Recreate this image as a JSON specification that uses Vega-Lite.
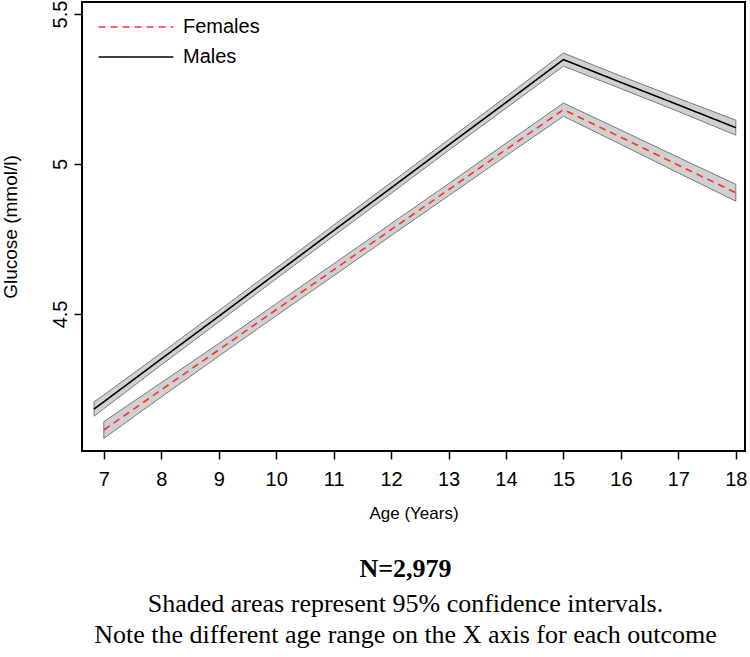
{
  "$schema": "https://vega.github.io/schema/vega-lite/v6.json",
  "width": 663,
  "height": 449,
  "autosize": {"type": "none"},
  "padding": {"left": 82, "top": 2, "right": 5, "bottom": 206},
  "background": "white",
  "config": {
    "view": {"stroke": "black", "strokeWidth": 2},
    "font": "Liberation Sans",
    "axis": {
      "grid": false,
      "domain": false,
      "tickSize": 8,
      "tickColor": "black",
      "tickWidth": 1.5,
      "labelFontSize": 20,
      "labelColor": "black",
      "labelPadding": 4,
      "titleFontSize": 17,
      "titleFontWeight": "normal",
      "titleColor": "black",
      "titleFont": "Liberation Sans"
    }
  },
  "title": {
    "text": "N=2,979",
    "subtitle": ["Shaded areas represent 95% confidence intervals.", "Note the different age range on the X axis for each outcome"],
    "orient": "bottom",
    "anchor": "middle",
    "dx": -8,
    "offset": 35,
    "font": "Liberation Serif",
    "fontSize": 26,
    "fontWeight": "bold",
    "color": "black",
    "subtitleFont": "Liberation Serif",
    "subtitleFontSize": 26,
    "subtitleColor": "black",
    "subtitleLineHeight": 31,
    "subtitlePadding": 9
  },
  "data": {
    "values": [
      {"sex": "Males", "age": 6.83, "fit": 4.183, "lo": 4.159, "hi": 4.207},
      {"sex": "Males", "age": 7, "fit": 4.207, "lo": 4.184, "hi": 4.230},
      {"sex": "Males", "age": 8, "fit": 4.350, "lo": 4.330, "hi": 4.370},
      {"sex": "Males", "age": 9, "fit": 4.492, "lo": 4.473, "hi": 4.511},
      {"sex": "Males", "age": 10, "fit": 4.635, "lo": 4.617, "hi": 4.653},
      {"sex": "Males", "age": 11, "fit": 4.778, "lo": 4.760, "hi": 4.796},
      {"sex": "Males", "age": 12, "fit": 4.920, "lo": 4.902, "hi": 4.938},
      {"sex": "Males", "age": 13, "fit": 5.063, "lo": 5.045, "hi": 5.081},
      {"sex": "Males", "age": 14, "fit": 5.205, "lo": 5.186, "hi": 5.224},
      {"sex": "Males", "age": 15, "fit": 5.348, "lo": 5.326, "hi": 5.370},
      {"sex": "Males", "age": 16, "fit": 5.272, "lo": 5.251, "hi": 5.293},
      {"sex": "Males", "age": 17, "fit": 5.197, "lo": 5.175, "hi": 5.219},
      {"sex": "Males", "age": 18, "fit": 5.121, "lo": 5.096, "hi": 5.146},
      {"sex": "Females", "age": 7, "fit": 4.113, "lo": 4.085, "hi": 4.141},
      {"sex": "Females", "age": 8, "fit": 4.247, "lo": 4.223, "hi": 4.271},
      {"sex": "Females", "age": 9, "fit": 4.380, "lo": 4.359, "hi": 4.401},
      {"sex": "Females", "age": 10, "fit": 4.514, "lo": 4.494, "hi": 4.534},
      {"sex": "Females", "age": 11, "fit": 4.647, "lo": 4.627, "hi": 4.667},
      {"sex": "Females", "age": 12, "fit": 4.781, "lo": 4.761, "hi": 4.801},
      {"sex": "Females", "age": 13, "fit": 4.914, "lo": 4.894, "hi": 4.934},
      {"sex": "Females", "age": 14, "fit": 5.048, "lo": 5.027, "hi": 5.069},
      {"sex": "Females", "age": 15, "fit": 5.181, "lo": 5.159, "hi": 5.203},
      {"sex": "Females", "age": 16, "fit": 5.089, "lo": 5.065, "hi": 5.113},
      {"sex": "Females", "age": 17, "fit": 4.996, "lo": 4.970, "hi": 5.022},
      {"sex": "Females", "age": 18, "fit": 4.904, "lo": 4.876, "hi": 4.932}
    ]
  },
  "encoding": {
    "x": {
      "field": "age",
      "type": "quantitative",
      "scale": {"domain": [6.62, 18.16], "nice": false, "zero": false},
      "axis": {
        "title": "Age (Years)",
        "values": [7, 8, 9, 10, 11, 12, 13, 14, 15, 16, 17, 18],
        "labelPadding": 10,
        "titlePadding": 16
      }
    }
  },
  "layer": [
    {
      "mark": {"type": "area", "fill": "#d0d0d0", "stroke": "#7a7a7a", "strokeWidth": 1, "opacity": 1},
      "encoding": {
        "y": {
          "field": "lo",
          "type": "quantitative",
          "scale": {"domain": [4.043, 5.54], "nice": false, "zero": false},
          "axis": {
            "title": "Glucose (mmol/l)",
            "values": [4.5, 5, 5.5],
            "format": ".1~f",
            "labelAngle": -90,
            "labelAlign": "center",
            "labelBaseline": "bottom",
            "titleFontSize": 19,
            "titlePadding": 30
          }
        },
        "y2": {"field": "hi"},
        "detail": {"field": "sex"}
      }
    },
    {
      "mark": {"type": "line", "strokeWidth": 1.6},
      "encoding": {
        "y": {"field": "fit", "type": "quantitative"},
        "color": {
          "field": "sex",
          "type": "nominal",
          "scale": {"domain": ["Females", "Males"], "range": ["#ff3030", "#000000"]},
          "legend": {
            "title": null,
            "orient": "none",
            "legendX": 34,
            "legendY": 5,
            "symbolType": "M-2,0H2",
            "symbolSize": 1400,
            "symbolStrokeWidth": 1.6,
            "labelFontSize": 20,
            "labelColor": "black",
            "labelOffset": 27,
            "rowPadding": -1
          }
        },
        "strokeDash": {
          "field": "sex",
          "type": "nominal",
          "scale": {"domain": ["Females", "Males"], "range": [[7, 5], [1, 0]]},
          "legend": {
            "title": null,
            "orient": "none",
            "legendX": 34,
            "legendY": 5,
            "symbolType": "M-2,0H2",
            "symbolSize": 1400,
            "symbolStrokeWidth": 1.6,
            "labelFontSize": 20,
            "labelColor": "black",
            "labelOffset": 27,
            "rowPadding": -1
          }
        }
      }
    }
  ]
}
